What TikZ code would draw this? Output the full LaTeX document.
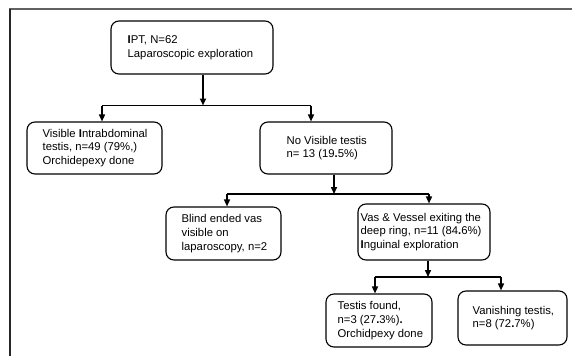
\documentclass[tikz,border=0pt]{standalone}
\usepackage{fontspec}
\setmainfont{Liberation Sans}
\usetikzlibrary{arrows.meta}
\begin{document}
\begin{tikzpicture}[x=1pt,y=-1pt,
  box/.style={draw=black, line width=1.1pt, rounded corners=8pt, inner sep=0pt},
  txt/.style={anchor=west, align=left, inner sep=0pt, font=\fontsize{11.3}{13.6}\selectfont},
  conn/.style={line width=1.5pt},
  arr/.style={line width=1.5pt, -{Triangle[length=7pt,width=6pt]}},
  frametop/.style={draw=black!62, line width=1.3pt},
  frameleft/.style={draw=black!85, line width=1.6pt}]
\useasboundingbox (0,0) rectangle (572,356);
% frame
\draw[frametop] (9.2,9) -- (572,9);
\draw[frameleft] (10,9) -- (10,356);
% boxes
\node[box, minimum width=162pt, minimum height=53pt] (b1) at (192,47.5) {};
\node[txt] (t1) at ([xshift=17pt]b1.west) {\textbf{I}PT, N=62\\Laparoscopic exploration};
\node[box, minimum width=135pt, minimum height=52pt] (b2) at (94.5,148) {};
\node[txt] (t2) at ([xshift=16pt]b2.west) {Visible \textbf{I}ntrabdominal\\testis, n=49 (79\%,)\\Orchidepexy done};
\node[box, minimum width=132pt, minimum height=52pt] (b3) at (326,148) {};
\node[txt] (t3) at ([xshift=27pt]b3.west) {No Visible testis\\n= 13 (19\textbf{.}5\%)};
\node[box, minimum width=115pt, minimum height=53pt] (b4) at (223.5,233.5) {};
\node[txt] (t4) at ([xshift=16pt]b4.west) {Blind ended vas\\visible on\\laparoscopy, n=2};
\node[box, minimum width=132pt, minimum height=56pt] (b5) at (424,232) {};
\node[txt] (t5) at ([xshift=3pt]b5.west) {Vas \& Vessel exiting the\\deep ring, n=11 (84\textbf{.}6\%)\\\textbf{I}nguinal exploration};
\node[box, minimum width=106pt, minimum height=53pt] (b6) at (379,320.5) {};
\node[txt] (t6) at ([xshift=12pt]b6.west) {Testis found,\\n=3 (27\textbf{.}3\%)\textbf{.}\\Orchidpexy done};
\node[box, minimum width=109pt, minimum height=54pt] (b7) at (512.5,318) {};
\node[txt] (t7) at ([xshift=15pt]b7.west) {Vanishing testis,\\n=8 (72\textbf{.}7\%)};
% junctions
\coordinate (j1) at (203,105.5);
\coordinate (j1l) at (102,105.5);
\coordinate (j1r) at (311,105.5);
\coordinate (j2) at (334,194);
\coordinate (j2l) at (227,194);
\coordinate (j2r) at (429,194);
\coordinate (j3) at (428,277);
\coordinate (j3l) at (375,277);
\coordinate (j3r) at (501,277);
% connectors
\draw[arr, line width=1.8pt] (b1.south -| j1) -- (j1);
\draw[conn] (j1l) -- (j1r);
\draw[arr] (j1l) -- (j1l |- b2.north);
\draw[arr] (j1r) -- (j1r |- b3.north);
\draw[arr] (b3.south -| j2) -- (j2);
\draw[conn] (j2l) -- (j2r);
\draw[arr] (j2l) -- (j2l |- b4.north);
\draw[arr] (j2r) -- (j2r |- b5.north);
\draw[arr] (b5.south -| j3) -- (j3);
\draw[conn] (j3l) -- (j3r);
\draw[arr] (j3l) -- (j3l |- b6.north);
\draw[arr] (j3r) -- (j3r |- b7.north);
\end{tikzpicture}
\end{document}
